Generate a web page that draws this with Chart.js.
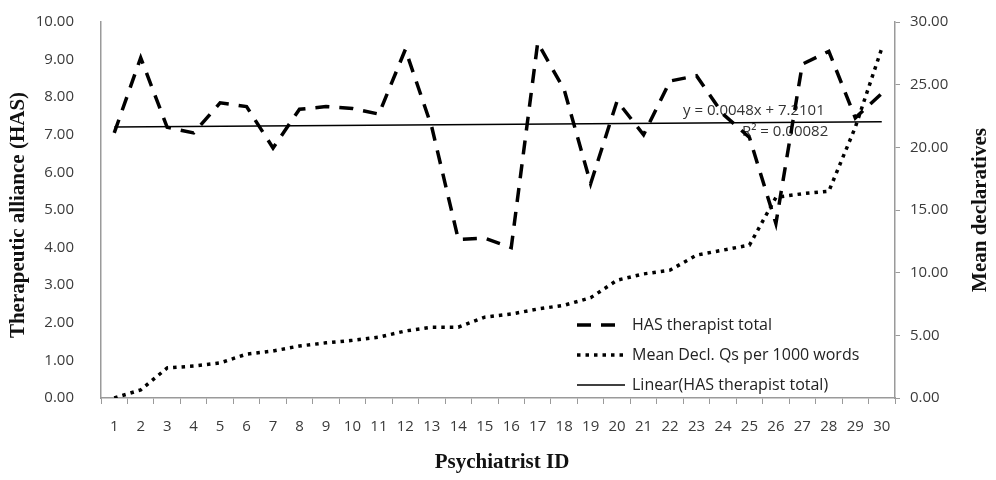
<!DOCTYPE html>
<html>
<head>
<meta charset="utf-8">
<script src="https://cdn.jsdelivr.net/npm/chart.js@4.4.1/dist/chart.umd.min.js"></script>
<style>
body { margin: 0; background: #fff; }
</style>
</head>
<body>
<canvas id="myChart" width="996" height="480"></canvas>
<script>
// psychiatrist ids along the x axis
const psychiatristIds = ['1', '2', '3', '4', '5', '6', '7', '8', '9', '10', '11', '12', '13', '14', '15',
    '16', '17', '18', '19', '20', '21', '22', '23', '24', '25', '26', '27', '28', '29', '30'];

// HAS therapist total (left axis)
const hasTotal = [7.05, 9.05, 7.2, 7.05, 7.85, 7.75, 6.65, 7.68, 7.75, 7.7, 7.55, 9.27, 7.2, 4.22, 4.25,
    4.0, 9.45, 8.2, 5.7, 7.9, 7.0, 8.43, 8.57, 7.55, 6.93, 4.64, 8.88, 9.22, 7.45, 8.1];

// mean declarative questions per 1000 words (right axis)
const meanDecl = [0.0, 0.65, 2.4, 2.55, 2.8, 3.5, 3.75, 4.15, 4.4, 4.6, 4.85, 5.35, 5.65, 5.65, 6.45,
    6.7, 7.1, 7.4, 8.0, 9.4, 9.9, 10.2, 11.4, 11.8, 12.2, 16.0, 16.3, 16.5, 21.6, 27.9];

// linear trend end points
const trendStart = 7.21;
const trendEnd = 7.35;
const trendText = ['y = 0.0048x + 7.2101', 'R\u00b2 = 0.00082'];

const leftTicks = { min: 0, max: 10, step: 1 };
const rightTicks = { min: 0, max: 30, step: 5 };

const trendLine = psychiatristIds.map(() => null);
trendLine[0] = trendStart;
trendLine[trendLine.length - 1] = trendEnd;

const tickFont = { family: 'Open Sans', size: 15 };
const tickColor = '#3a3a3a';
const axisColor = '#9a9a9a';

const labelsPlugin = {
    id: 'extraLabels',
    beforeDatasetsDraw(chart) {
        const ctx = chart.ctx;
        ctx.save();
        ctx.fillStyle = '#333';
        ctx.font = '15px "Open Sans"';
        ctx.textBaseline = 'middle';
        ctx.textAlign = 'left';
        ctx.fillText(trendText[0], 683, 111);
        ctx.fillText(trendText[1], 742, 132);
        ctx.restore();
    },
    afterDraw(chart) {
        const ctx = chart.ctx;
        const area = chart.chartArea;
        ctx.save();
        ctx.fillStyle = '#111';
        ctx.font = 'bold 21px "Liberation Serif"';
        ctx.textAlign = 'center';
        ctx.textBaseline = 'middle';
        ctx.fillText('Psychiatrist ID', (area.left + area.right) / 2 + 4, 463);

        ctx.save();
        ctx.translate(19, 215);
        ctx.rotate(-Math.PI / 2);
        ctx.fillText('Therapeutic alliance (HAS)', 0, 0);
        ctx.restore();

        ctx.save();
        ctx.translate(981, 210);
        ctx.rotate(-Math.PI / 2);
        ctx.fillText('Mean declaratives', 0, 0);
        ctx.restore();

        // legend
        const rows = chart.data.datasets;
        const ys = [325, 355, 385];
        ctx.font = '16px "Open Sans"';
        ctx.textAlign = 'left';
        ctx.fillStyle = '#222';
        rows.forEach((ds, i) => {
            ctx.save();
            ctx.strokeStyle = ds.borderColor;
            ctx.lineWidth = ds.borderWidth;
            ctx.setLineDash(ds.borderDash || []);
            ctx.beginPath();
            ctx.moveTo(577, ys[i]);
            ctx.lineTo(625, ys[i]);
            ctx.stroke();
            ctx.restore();
            ctx.fillText(ds.label, 632, ys[i]);
        });
        ctx.restore();
    }
};

const config = {
    type: 'line',
    data: {
        labels: psychiatristIds,
        datasets: [
            {
                label: 'HAS therapist total',
                data: hasTotal,
                yAxisID: 'y',
                borderColor: '#000',
                borderWidth: 3.5,
                borderDash: [14, 10],
                pointRadius: 0,
                tension: 0
            },
            {
                label: 'Mean Decl. Qs per 1000 words',
                data: meanDecl,
                yAxisID: 'y2',
                borderColor: '#000',
                borderWidth: 3.5,
                borderDash: [3.5, 5],
                pointRadius: 0,
                tension: 0
            },
            {
                label: 'Linear(HAS therapist total)',
                data: trendLine,
                yAxisID: 'y',
                borderColor: '#000',
                borderWidth: 1.5,
                pointRadius: 0,
                spanGaps: true
            }
        ]
    },
    options: {
        responsive: false,
        animation: false,
        layout: { padding: { top: 0, left: 0, right: 0, bottom: 0 } },
        plugins: {
            legend: { display: false },
            tooltip: { enabled: false }
        },
        scales: {
            x: {
                offset: true,
                grid: { display: true, drawOnChartArea: false, offset: true, tickLength: 6, color: axisColor },
                border: { color: axisColor, width: 1.5 },
                ticks: { color: tickColor, font: tickFont, padding: 14, maxRotation: 0, autoSkip: false },
                afterFit: (scale) => { scale.height = 82; }
            },
            y: {
                position: 'left',
                min: leftTicks.min,
                max: leftTicks.max,
                grid: { display: false },
                border: { color: axisColor, width: 1.5 },
                ticks: {
                    stepSize: leftTicks.step,
                    color: tickColor,
                    font: tickFont,
                    padding: 19,
                    callback: (v) => v.toFixed(2)
                },
                afterFit: (scale) => { scale.width = 101; scale.paddingTop = 22; }
            },
            y2: {
                position: 'right',
                min: rightTicks.min,
                max: rightTicks.max,
                grid: { display: true, drawOnChartArea: false, tickLength: 5, color: axisColor },
                border: { color: axisColor, width: 1.5 },
                ticks: {
                    stepSize: rightTicks.step,
                    color: tickColor,
                    font: tickFont,
                    padding: 10,
                    callback: (v) => v.toFixed(2)
                },
                afterFit: (scale) => { scale.width = 101; scale.paddingTop = 22; }
            }
        }
    },
    plugins: [labelsPlugin]
};

const myChart = new Chart(document.getElementById('myChart'), config);
</script>
</body>
</html>
